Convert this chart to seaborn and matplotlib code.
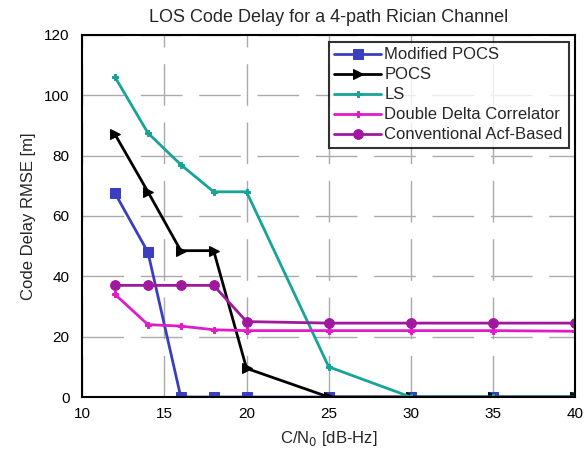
import pandas as pd
import matplotlib
matplotlib.use("Agg")
import matplotlib.pyplot as plt
import seaborn as sns

cn0 = [12, 14, 16, 18, 20, 25, 30, 35, 40]
modified_pocs = [67.5, 48, 0, 0, 0, 0, 0, 0, 0]
pocs = [87, 68, 48.5, 48.5, 9.5, 0, 0, 0, 0]
ls = [106, 87.5, 77, 68, 68, 10, 0, 0, 0]
double_delta = [34, 24, 23.5, 22.3, 22, 22, 22, 22, 21.8]
acf_based = [37, 37, 37, 37, 25, 24.5, 24.5, 24.5, 24.5]

names = ["Modified POCS", "POCS", "LS", "Double Delta Correlator", "Conventional Acf-Based"]
series = [modified_pocs, pocs, ls, double_delta, acf_based]

rows = []
for name, vals in zip(names, series):
    for x, y in zip(cn0, vals):
        rows.append({"cn0": x, "rmse": y, "method": name})
df = pd.DataFrame(rows)

sns.set_style("white")
plt.rcParams['font.family'] = ['Liberation Sans', 'DejaVu Sans']

colors = {"Modified POCS": "#3b3fbf", "POCS": "#000000", "LS": "#17a398",
          "Double Delta Correlator": "#e01cc8", "Conventional Acf-Based": "#a0189e"}
markers = {"Modified POCS": "s", "POCS": ">", "LS": "P",
           "Double Delta Correlator": "P", "Conventional Acf-Based": "o"}
msizes = {"Modified POCS": 7, "POCS": 7, "LS": 5, "Double Delta Correlator": 5,
          "Conventional Acf-Based": 7}

fig, ax = plt.subplots(figsize=(5.87, 4.59), dpi=100)
fig.subplots_adjust(left=0.14, right=0.98, top=0.924, bottom=0.135)

for name in names:
    sub = df[df["method"] == name]
    sns.lineplot(data=sub, x="cn0", y="rmse", ax=ax, color=colors[name],
                 marker=markers[name], markersize=msizes[name], linewidth=2,
                 markeredgecolor=colors[name], label=name)

ax.set_xlim(10, 40)
ax.set_ylim(0, 120)
ax.set_xticks([10, 15, 20, 25, 30, 35, 40])
ax.set_yticks([0, 20, 40, 60, 80, 100, 120])
ax.grid(True, color="#aaaaaa", linewidth=1, linestyle=(0, (30, 12)))
for sp in ax.spines.values():
    sp.set_color("black")
    sp.set_linewidth(1.5)
ax.tick_params(axis="both", labelsize=11, direction="in", length=5, colors="black")
ax.tick_params(axis="y", pad=9)
ax.tick_params(axis="x", pad=7)

ax.set_title("LOS Code Delay for a 4-path Rician Channel", fontsize=13, pad=9)
ax.set_xlabel("C/N$_0$ [dB-Hz]", fontsize=12, labelpad=6)
ax.set_ylabel("Code Delay RMSE [m]", fontsize=12, labelpad=6)

leg = ax.legend(loc="upper right", fontsize=12, frameon=True, fancybox=False,
                edgecolor="black", borderpad=0.35, labelspacing=0.3,
                handlelength=2.8, handletextpad=0.2, borderaxespad=0.4)
leg.get_frame().set_linewidth(1.5)

fig.savefig("out.png", dpi=100)
